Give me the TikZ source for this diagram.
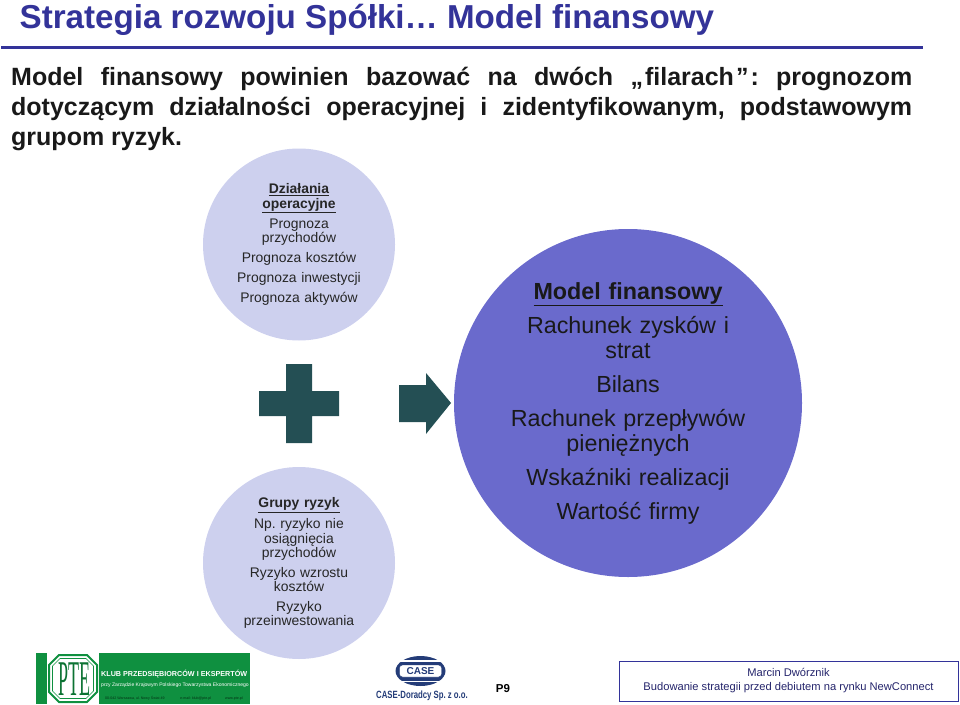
\documentclass[tikz,border=0pt]{standalone}
\usepackage{fontspec}
\setmainfont{Liberation Sans}
\newfontfamily\ptefont{Liberation Serif}
\usepackage{tikz}
\usetikzlibrary{positioning}
\frenchspacing
\definecolor{navy}{HTML}{333399}
\definecolor{pale}{HTML}{CDD0EE}
\definecolor{violet}{HTML}{6A6ACC}
\definecolor{teal}{HTML}{244F54}
\definecolor{ptegreen}{HTML}{0F9040}
\definecolor{casenavy}{HTML}{243C78}
\tikzstyle{small circle}=[circle,fill=pale,minimum size=192pt,inner sep=0pt,text width=130pt,align=center,
                font=\fontsize{13.9}{14.5}\selectfont,text=black!85]
\tikzstyle{big circle}=[circle,fill=violet,minimum size=348pt,inner sep=0pt,text width=248pt,align=center,
                font=\fontsize{23.3}{25}\selectfont,text=black!90]
\tikzstyle{sign}=[fill=teal]
\tikzstyle{bodyline}=[anchor=base west,inner sep=0pt,font=\fontsize{25}{25}\selectfont\bfseries,text=black!90]
\tikzstyle{logotext}=[anchor=base west,inner sep=0pt]
\begin{document}
\begin{tikzpicture}[x=1pt,y=-1pt]
\useasboundingbox (0,0) rectangle (960,704);
% header
\node (title) [anchor=base west,inner sep=0pt,text=navy,font=\fontsize{33.15}{33}\selectfont\bfseries] at (19.5,28) {Strategia rozwoju Spółki… Model finansowy};
\fill[navy] (1,45.5) rectangle (923,48.5);
\node (line1) [bodyline] at (11,85) {\makebox[901pt][s]{Model finansowy powinien bazować na dwóch „\kern2pt filarach\kern2pt ”\kern2pt : prognozom}};
\node (line2) [bodyline] at (11,115) {\makebox[901pt][s]{dotyczącym działalności operacyjnej i zidentyfikowanym, podstawowym}};
\node (line3) [bodyline] at (11,145) {grupom ryzyk.};
% circles
\node (ops) [small circle] at (299,244.5) {\underline{\textbf{Działania}}\\\underline{\textbf{operacyjne}}\\[5.5pt]
  Prognoza\\przychodów\\[5.5pt]Prognoza kosztów\\[5.5pt]Prognoza inwestycji\\[5.5pt]Prognoza aktywów};
\node (risk) [small circle] at (299,563) {\underline{\textbf{Grupy ryzyk}}\\[5pt]
  Np. ryzyko nie\\osiągnięcia\\przychodów\\[5pt]Ryzyko wzrostu\\kosztów\\[5pt]Ryzyko\\przeinwestowania};
\node (model) [big circle] at (628,403) {\underline{\textbf{Model finansowy}}\\[9pt]
  Rachunek zysków i\\strat\\[9pt]Bilans\\[9pt]Rachunek przepływów\\pieniężnych\\[9pt]Wskaźniki realizacji\\[9pt]Wartość firmy};
% plus and arrow
\fill[sign] (286,364) -- (312,364) -- (312,391) -- (339,391) -- (339,416) -- (312,416) -- (312,443)
  -- (286,443) -- (286,416) -- (259,416) -- (259,391) -- (286,391) -- cycle;
\fill[sign] (399,385) -- (426,385) -- (426,373) -- (451,403) -- (426,434) -- (426,422) -- (399,422) -- cycle;
% footer
\fill[ptegreen] (36,653) rectangle (250,704);
\fill[white] (47,653) rectangle (99,704);
\draw[ptegreen,line width=2pt,fill=white] (59,655) -- (87,655) -- (97,665) -- (97,692) -- (87,702) -- (59,702) -- (49,692) -- (49,665) -- cycle;
\draw[ptegreen,line width=.6pt] (60,658.5) -- (86,658.5) -- (93.5,666) -- (93.5,691) -- (86,698.5) -- (60,698.5) -- (52.5,691) -- (52.5,666) -- cycle;
\node (pte) [inner sep=0pt,text=ptegreen!80!black] at (74,679) {\scalebox{.36}[1]{\ptefont\fontsize{50}{50}\selectfont PTE}};
\node (klub) [logotext,text=white,font=\fontsize{7.2}{8}\selectfont\bfseries] at (101,676) {KLUB PRZEDSIĘBIORCÓW I EKSPERTÓW};
\node (przy) [logotext,text=white,font=\fontsize{5.05}{5}\selectfont] at (101,686) {przy Zarządzie Krajowym Polskiego Towarzystwa Ekonomicznego};
\node (adres) [logotext,text=ptegreen!35!black,font=\fontsize{3.6}{4}\selectfont] at (105,699) {00-042 Warszawa, ul. Nowy Świat 49};
\node (mail) [logotext,text=ptegreen!35!black,font=\fontsize{3.6}{4}\selectfont] at (180,699) {e-mail: klub@pte.pl};
\node (www) [logotext,text=ptegreen!35!black,font=\fontsize{3.6}{4}\selectfont] at (225,699) {www.pte.pl};
\fill[casenavy] (420.5,671) ellipse (25 and 15);
\fill[white] (394,660) rectangle (447,661.5);
\fill[white] (394,680.5) rectangle (447,682);
\node (case) [fill=white,draw=casenavy,rounded corners=3pt,inner sep=0pt,minimum width=42pt,minimum height=12pt,text=casenavy,font=\fontsize{10}{10}\selectfont\bfseries] at (420.5,671) {CASE};
\node (doradcy) [anchor=base,inner sep=0pt,text=casenavy] at (422,698) {\scalebox{.74}[1]{\fontsize{10.5}{11}\selectfont\bfseries CASE-Doradcy Sp. z o.o.}};
\node (page) [inner sep=0pt,font=\fontsize{11.5}{12}\selectfont\bfseries] at (503,688.5) {P9};
\node (foot) [draw=navy,line width=1pt,minimum width=339pt,minimum height=40pt,inner sep=0pt,align=center,text=navy!70!black,
  font=\fontsize{11.15}{14}\selectfont] at (788.5,681) {Marcin Dwórznik\\Budowanie strategii przed debiutem na rynku NewConnect};
\end{tikzpicture}
\end{document}
